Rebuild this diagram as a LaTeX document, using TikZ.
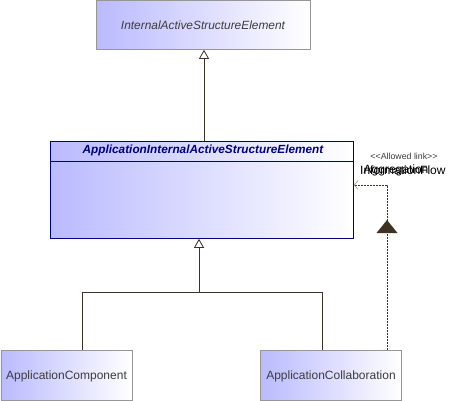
\documentclass[tikz,border=0pt]{standalone}
\usepackage{fontspec}
\setmainfont{Liberation Sans}
\usetikzlibrary{arrows.meta}
\definecolor{boxleft}{RGB}{186,186,255}
\definecolor{graybd}{RGB}{150,150,150}
\definecolor{navy}{RGB}{0,0,128}
\definecolor{linec}{RGB}{64,50,34}
\definecolor{txt}{RGB}{60,60,60}
\tikzset{
  elem/.style={rectangle, anchor=north west, left color=boxleft, right color=white, draw=graybd, line width=0.8pt, inner sep=0pt},
  gen/.style={draw=linec, line width=0.8pt, -{Triangle[open, length=9pt, width=10pt, fill=white]}},
  flowline/.style={draw=linec, line width=0.8pt, dash pattern=on 2pt off 1pt, -{Straight Barb[length=4pt, width=9pt, line width=0.6pt, color=graybd]}},
}
\begin{document}
\begin{tikzpicture}[x=1pt,y=-1pt]
\useasboundingbox (0,0) rectangle (457,400);
% top box
\node[elem, minimum width=214pt, minimum height=49pt] (iase) at (96,0) {};
\node[font=\fontsize{11.9}{14}\selectfont\itshape, text=txt] (iaset) at (203,25) {InternalActiveStructureElement};
% middle box
\node[elem, draw=navy, minimum width=303pt, minimum height=97pt] (aiase) at (50,141) {};
\coordinate (sepL) at (50,161);
\coordinate (sepR) at (353,161);
\draw[navy, line width=0.8pt] (sepL) -- (sepR);
\node[font=\fontsize{11.8}{14}\selectfont\bfseries\itshape, text=navy] (aiaset) at (203,150.5) {ApplicationInternalActiveStructureElement};
% bottom boxes
\node[elem, minimum width=131pt, minimum height=50pt] (comp) at (0.5,350) {};
\node[font=\fontsize{12}{14}\selectfont, text=txt] (compt) at (66.5,376) {ApplicationComponent};
\node[elem, minimum width=141pt, minimum height=50pt] (coll) at (260,350) {};
\node[font=\fontsize{12}{14}\selectfont, text=txt] (collt) at (331,376) {ApplicationCollaboration};
% generalization to top
\draw[gen] (aiase.north -| 204,0) -- (iase.south -| 204,0);
% generalizations from bottom
\coordinate (j) at (199,292);
\draw[draw=linec, line width=0.8pt] (comp.north -| 82,0) |- (j);
\draw[draw=linec, line width=0.8pt] (coll.north -| 322,0) |- (j);
\draw[gen] (j) -- (aiase.south -| 199,0);
% allowed link
\coordinate (bend) at (387,185);
\draw[flowline] (coll.north -| 387,0) -- (bend) -- (aiase.east |- bend);
\coordinate (tri) at (387,220);
\fill[linec] (tri) -- ++(10.5,13) -- ++(-21,0) -- cycle;
\node[font=\fontsize{8.8}{10}\selectfont, text=txt] (al) at (404,156) {<{}<Allowed link>{}>};
\node[font=\fontsize{12}{14}\selectfont, anchor=west, inner sep=0pt] (agg) at (363.5,170) {Aggregation};
\node[font=\fontsize{12}{14}\selectfont, anchor=west, inner sep=0pt] (inf) at (360,170) {InformationFlow};
\end{tikzpicture}
\end{document}
